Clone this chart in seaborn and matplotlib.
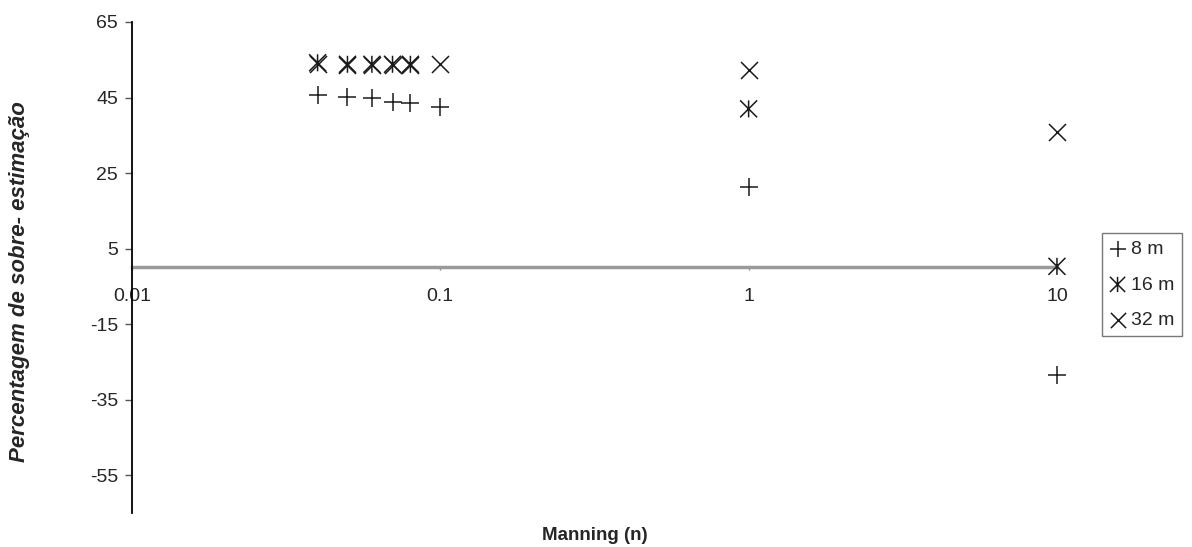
import numpy as np
import pandas as pd
import matplotlib
matplotlib.use("Agg")
import matplotlib.pyplot as plt
from matplotlib.path import Path
import seaborn as sns

# ---- data ----
manning = [0.04, 0.05, 0.06, 0.07, 0.08, 0.1, 1, 10]
s8 = [45.7, 45.2, 44.9, 43.9, 43.5, 42.4, 21.3, -28.5]
s16 = [54.2, 53.8, 53.8, 53.8, 53.8, np.nan, 42.0, 0.3]
s32 = [54.0, 53.6, 53.6, 53.6, 53.6, 53.8, 52.3, 35.9]
series_labels = ["8 m", "16 m", "32 m"]
yticks = [65, 45, 25, 5, -15, -35, -55]
xticks = [0.01, 0.1, 1, 10]
xticklabels = ["0.01", "0.1", "1", "10"]

sns.set_style("white")
plt.rcParams["font.family"] = ["Liberation Sans", "DejaVu Sans"]
plt.rcParams["axes.unicode_minus"] = False

star = Path(
    [(-1, -1), (1, 1), (-1, 1), (1, -1), (0, -1.0), (0, 1.0)],
    [Path.MOVETO, Path.LINETO, Path.MOVETO, Path.LINETO, Path.MOVETO, Path.LINETO],
)
markers = ["+", star, "x"]
sizes = [170, 150, 150]
ink = "#1a1a1a"

fig = plt.figure(figsize=(11.92, 5.47), dpi=100)
ax = fig.add_axes([0.1107, 0.0622, 0.7760, 0.8976])

for vals, lab, m, s in zip([s8, s16, s32], series_labels, markers, sizes):
    df = pd.DataFrame({"x": manning, "y": vals}).dropna()
    sns.scatterplot(data=df, x="x", y="y", ax=ax, marker=m, s=s, color=ink,
                    edgecolor=ink, facecolor="none" if m is star else ink,
                    linewidth=1.1, label=lab, clip_on=False, zorder=3)

ax.set_xscale("log")
ax.set_xlim(0.01, 10)
ax.set_ylim(-65, 65)
ax.set_yticks(yticks)
ax.set_xticks(xticks)
ax.set_xticklabels(xticklabels)
ax.xaxis.set_minor_locator(matplotlib.ticker.NullLocator())

for sp in ["top", "right"]:
    ax.spines[sp].set_visible(False)
ax.spines["left"].set_color("black")
ax.spines["left"].set_linewidth(1.3)
ax.spines["bottom"].set_position(("data", 0))
ax.spines["bottom"].set_color("#9a9a9a")
ax.spines["bottom"].set_linewidth(2.5)
ax.spines["bottom"].set_zorder(1)

ax.tick_params(axis="y", direction="out", length=5, width=1, color="#555555",
               pad=5, labelsize=14, left=True)
ax.tick_params(axis="x", direction="out", length=2, width=1, color="#888888",
               pad=13, labelsize=14, bottom=True)

ax.set_xlabel("Manning (n)", fontsize=13.5, fontweight="bold")
ax.xaxis.set_label_coords(0.5, -0.028)
ax.set_ylabel("Percentagem de sobre- estimação", fontsize=16,
              fontweight="bold", fontstyle="italic")
ax.yaxis.set_label_coords(-0.11, 0.472)

leg = ax.legend(loc="upper left", bbox_to_anchor=(0.9245, 0.574),
                bbox_transform=fig.transFigure, frameon=True, fancybox=False,
                fontsize=14, handlelength=0.8, handletextpad=0.3,
                borderpad=0.4, labelspacing=0.9, borderaxespad=0)
leg.get_frame().set_edgecolor("#555555")
leg.get_frame().set_linewidth(1.0)
for h in leg.legend_handles:
    h.set_sizes([120])

fig.savefig("out.png", dpi=100)
